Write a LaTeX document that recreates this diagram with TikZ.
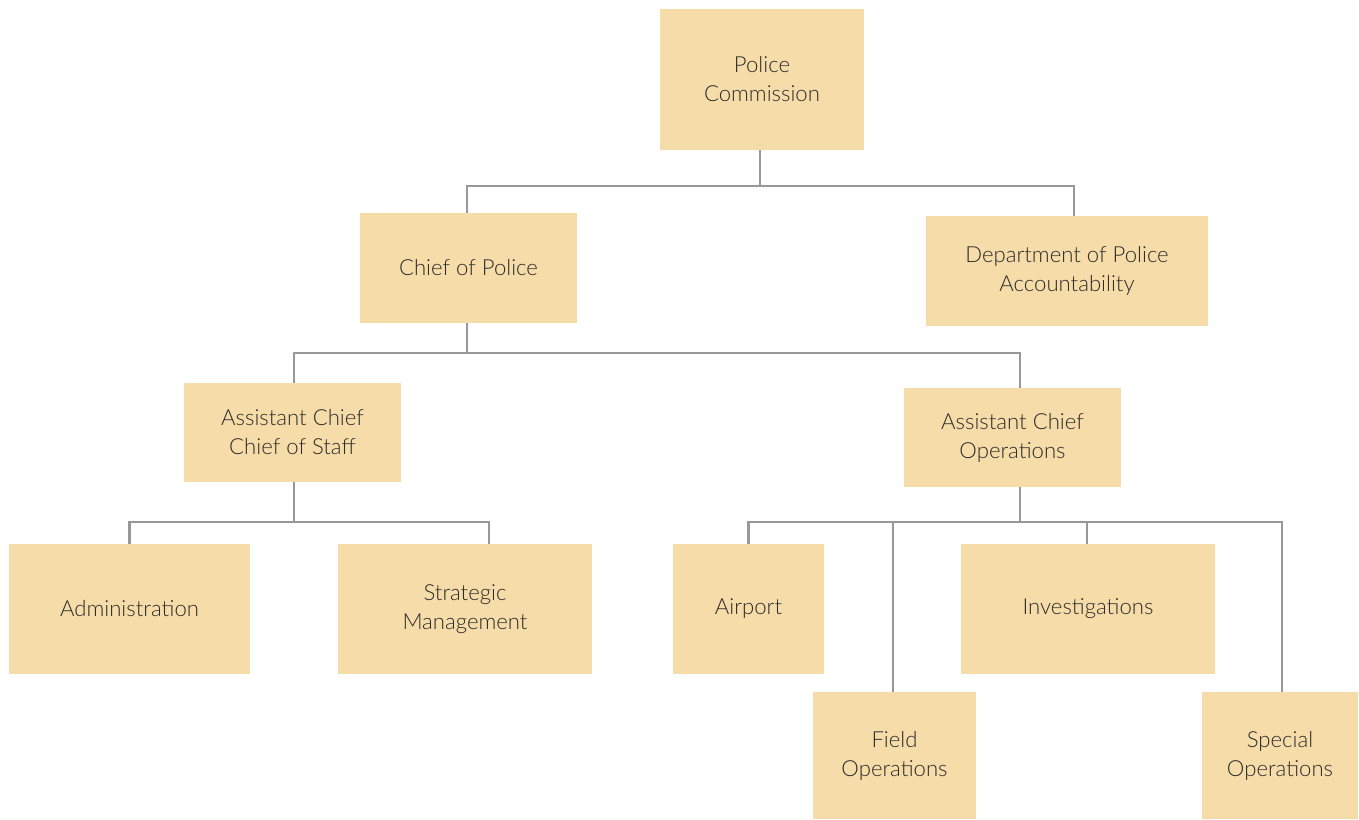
\documentclass[tikz,border=0pt]{standalone}
\usepackage{fontspec}
\setmainfont{Lato}[UprightFont=* Light]
\usepackage{tikz}
\usetikzlibrary{calc,positioning}
\definecolor{boxfill}{HTML}{F6DCA8}
\definecolor{linkgray}{HTML}{98989C}
\definecolor{textdark}{HTML}{2B2B2B}

\begin{document}
\begin{tikzpicture}[x=0.02cm, y=-0.02cm,
	unit/.style={fill=boxfill, text=textdark, align=center, inner sep=0pt,
		font=\fontsize{12.6}{16.5}\selectfont},
	link/.style={draw=linkgray, line width=1.5pt}]
\useasboundingbox (0,0) rectangle (1359,820);

	\node [unit, minimum width=4.08cm, minimum height=2.82cm] (comm)  at ( 762,  79.5) {Police\\Commission};
	\node [unit, minimum width=4.34cm, minimum height=2.20cm] (chief) at ( 468.5, 268) {Chief of Police};
	\node [unit, minimum width=5.64cm, minimum height=2.20cm] (dpa)   at (1067,  271) {Department of Police\\Accountability};
	\node [unit, minimum width=4.34cm, minimum height=1.98cm] (acstaff) at ( 292.5, 432.5) {Assistant Chief\\Chief of Staff};
	\node [unit, minimum width=4.34cm, minimum height=1.98cm] (acops)   at (1012.5, 437.5) {Assistant Chief\\Operations};

	\node [unit, minimum width=4.82cm, minimum height=2.60cm] (admin)   at ( 129.5, 609) {Administration};
	\node [unit, minimum width=5.08cm, minimum height=2.60cm] (strat)   at ( 465,   609) {Strategic\\Management};
	\node [unit, minimum width=3.02cm, minimum height=2.60cm] (airport) at ( 748.5, 609) {Airport};
	\node [unit, minimum width=5.08cm, minimum height=2.60cm] (invest)  at (1088,   609) {Investigations};
	\node [unit, minimum width=3.26cm, minimum height=2.54cm] (field)   at ( 894.5, 755.5) {Field\\Operations};
	\node [unit, minimum width=3.12cm, minimum height=2.54cm] (special) at (1280,   755.5) {Special\\Operations};

	% bus lines
	\coordinate (bus1) at (760, 186);
	\coordinate (bus2) at (467, 353);
	\coordinate (bus3) at (294, 522);
	\coordinate (bus4) at (1020, 522);

	\draw [link] (comm.south -| bus1) -- (bus1);
	\draw [link] (bus1) -| (chief.north -| bus2);
	\draw [link] (bus1) -| ($(dpa.north)+(7,0)$);

	\draw [link] (chief.south -| bus2) -- (bus2);
	\draw [link] (bus2) -| (acstaff.north -| bus3);
	\draw [link] (bus2) -| (acops.north -| bus4);

	\draw [link] (acstaff.south -| bus3) -- (bus3);
	\draw [link] (bus3) -| (admin.north);
	\draw [link] (bus3) -| ($(strat.north)+(24,0)$);

	\draw [link] (acops.south -| bus4) -- (bus4);
	\draw [link] (bus4) -| (airport.north);
	\draw [link] (bus4) -| ($(field.north)+(-1.5,0)$);
	\draw [link] (bus4) -| ($(invest.north)+(-1,0)$);
	\draw [link] (bus4) -| (special.north -| 1282,0);
\end{tikzpicture}
\end{document}
